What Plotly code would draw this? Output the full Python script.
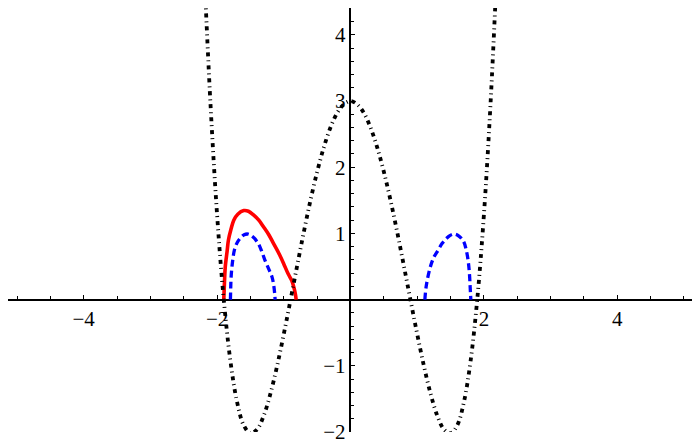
"""Quartic curve with two lobed curves, Mathematica-style axes through the origin."""
import plotly.graph_objects as go

# black dot-dashed curve
black_x = [-2.2, -2.1, -2.0, -1.9, -1.8, -1.7, -1.6, -1.5, -1.4, -1.3, -1.2, -1.1,
           -1.0, -0.9, -0.8, -0.7, -0.6, -0.5, -0.4, -0.3, -0.2, -0.1, 0.0,
           0.1, 0.2, 0.3, 0.4, 0.5, 0.6, 0.7, 0.8, 0.9, 1.0, 1.1, 1.2, 1.3,
           1.4, 1.5, 1.6, 1.7, 1.8, 1.9, 2.0, 2.1, 2.2]
black_y = [5.11, 2.97, 1.28, 0.00, -0.93, -1.55, -1.90, -2.02, -1.96, -1.75, -1.42, -1.00,
           -0.52, -0.01, 0.51, 1.02, 1.50, 1.93, 2.30, 2.60, 2.82, 2.95, 3.00,
           2.95, 2.82, 2.60, 2.30, 1.93, 1.50, 1.02, 0.51, -0.01, -0.52, -1.00, -1.42, -1.75,
           -1.96, -2.02, -1.90, -1.55, -0.93, 0.00, 1.28, 2.97, 5.11]

# red solid lobe
red_x = [-1.90, -1.89, -1.877, -1.85, -1.83, -1.79, -1.75, -1.69, -1.60, -1.53, -1.455,
         -1.375, -1.305, -1.225, -1.155, -1.075, -1.005, -0.935, -0.882, -0.845, -0.826, -0.815]
red_y = [0.0, 0.25, 0.5, 0.73, 0.9, 1.07, 1.2, 1.29, 1.345, 1.335, 1.28,
         1.2, 1.1, 0.98, 0.85, 0.7, 0.55, 0.39, 0.29, 0.17, 0.08, 0.0]

# blue dashed lobes
blue_left_x = [-1.80, -1.796, -1.79, -1.77, -1.74, -1.70, -1.65, -1.595, -1.535, -1.465,
               -1.385, -1.335, -1.285, -1.225, -1.176, -1.146, -1.13]
blue_left_y = [0.0, 0.17, 0.34, 0.56, 0.75, 0.86, 0.93, 0.98, 0.99, 0.95,
               0.85, 0.74, 0.6, 0.46, 0.34, 0.18, 0.0]
blue_right_x = [1.115, 1.135, 1.19, 1.245, 1.315, 1.375, 1.445, 1.495, 1.555, 1.625,
                1.695, 1.735, 1.765, 1.784, 1.794, 1.804]
blue_right_y = [0.0, 0.2, 0.47, 0.63, 0.75, 0.85, 0.93, 0.97, 0.99, 0.96,
                0.88, 0.75, 0.58, 0.38, 0.19, 0.0]

x_ticks = [-4, -2, 2, 4]
y_ticks = [-2, -1, 1, 2, 3, 4]
# the page body keeps an 8px margin, so the ranges are set for the visible part
X_RANGE = [-5.135, 5.24]
Y_RANGE = [-2, 4.405]

FONT = dict(family="Liberation Serif, Times New Roman, serif", size=21, color="black")

fig = go.Figure()
fig.add_trace(go.Scatter(x=red_x, y=red_y, mode="lines", line_shape="spline",
                         line=dict(color="#FF0000", width=3.6)))
for bx, by in [(blue_left_x, blue_left_y), (blue_right_x, blue_right_y)]:
    fig.add_trace(go.Scatter(x=bx, y=by, mode="lines", line_shape="spline",
                             line=dict(color="#0000FF", width=3.3, dash="7px,4px")))
fig.add_trace(go.Scatter(x=black_x, y=black_y, mode="lines", line_shape="spline",
                         line=dict(color="black", width=3.8, dash="4px,4px,1px,4px")))

fig.update_layout(
    width=700,
    height=446,
    margin=dict(l=0, r=8, t=0, b=22),
    plot_bgcolor="white",
    paper_bgcolor="white",
    showlegend=False,
    xaxis=dict(
        range=X_RANGE, anchor="free",
        position=(0 - Y_RANGE[0]) / (Y_RANGE[1] - Y_RANGE[0]),
        showgrid=False, zeroline=False, showline=True, linecolor="black", linewidth=1.6,
        ticks="inside", ticklen=4, tickwidth=1, tickcolor="black",
        tickmode="array", tickvals=x_ticks, tickfont=FONT, layer="below traces",
        minor=dict(tickmode="linear", tick0=0, dtick=0.5, ticks="inside",
                   ticklen=3, tickwidth=1, tickcolor="black", showgrid=False),
    ),
    yaxis=dict(
        range=Y_RANGE, anchor="free",
        position=(0 - X_RANGE[0]) / (X_RANGE[1] - X_RANGE[0]),
        showgrid=False, zeroline=False, showline=True, linecolor="black", linewidth=1.6,
        ticks="inside", ticklen=4, tickwidth=1, tickcolor="black",
        tickmode="array", tickvals=y_ticks, tickfont=FONT, layer="below traces",
        minor=dict(tickmode="linear", tick0=0, dtick=0.2, ticks="inside",
                   ticklen=3, tickwidth=1, tickcolor="black", showgrid=False),
    ),
)

fig.write_html("out.html")
